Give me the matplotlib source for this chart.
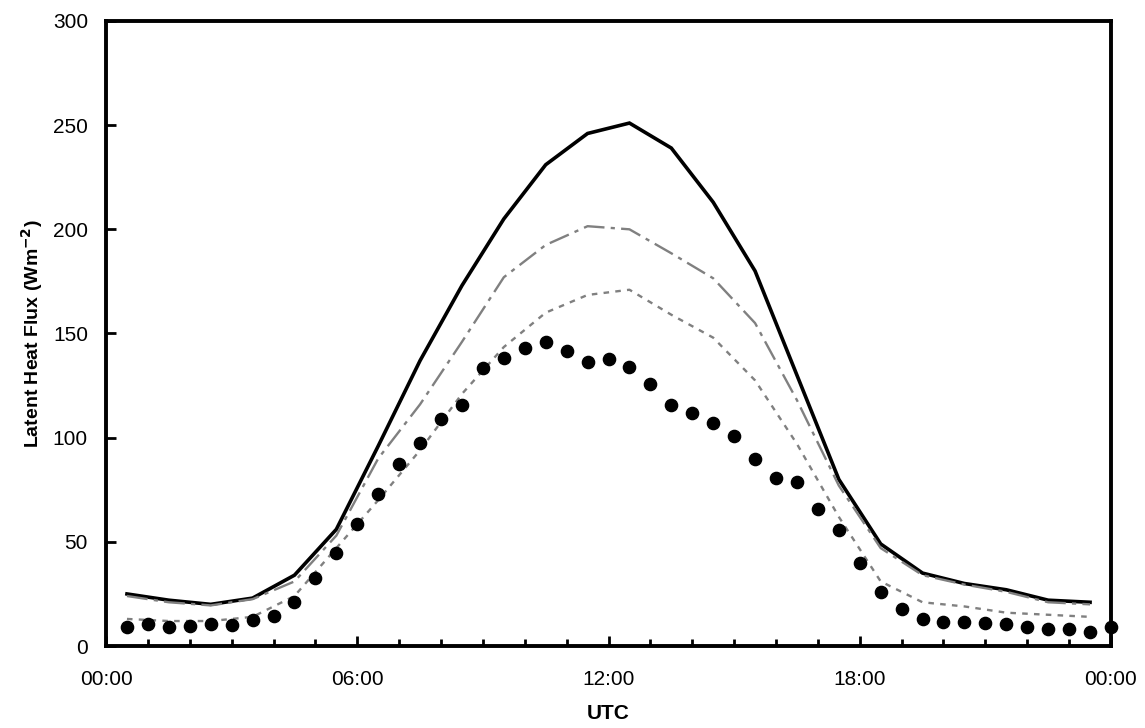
import numpy as np
import matplotlib
matplotlib.use('Agg')
import matplotlib.pyplot as plt
from matplotlib.ticker import MultipleLocator, FixedLocator, FixedFormatter

plt.rcParams['font.family'] = ['Liberation Sans', 'DejaVu Sans']
plt.rcParams['lines.scale_dashes'] = False

# hourly model output (half past each hour)
hours_line = np.arange(0.5, 24.0, 1.0)
solid_vals = [25, 22, 20, 23, 34, 56, 96, 137, 173, 205, 231, 246,
              251, 239, 213, 180, 130, 80, 49, 35, 30, 27, 22, 21]
dashdot_vals = [24, 21, 19.5, 22.5, 31, 53, 90, 116, 146, 177, 192.5, 201.5,
                200, 188.5, 176.5, 155, 118, 77, 47, 34, 29.5, 26, 21, 20]
dotted_vals = [13, 12, 12, 14, 24, 47, 70, 94, 121, 143.5, 160, 168.5,
               171, 159, 148, 127.5, 97, 62, 31, 21, 19, 16, 15, 14]

# half-hourly observations
hours_obs = np.arange(0.5, 24.01, 0.5)
obs_vals = [9, 10.5, 9, 9.6, 10.5, 10, 12.5, 14.5, 21, 32.6, 44.6, 58.6,
            73, 87.4, 97.5, 109, 115.7, 133.4, 138.3, 143, 145.9, 141.6, 136.3, 137.6,
            134, 125.8, 115.7, 112, 107, 100.8, 90, 80.7, 78.8, 66, 55.7, 39.8,
            26, 17.8, 13, 11.5, 11.5, 11, 10.5, 9, 8.2, 8.2, 6.7, 9]

xtick_pos = [0, 6, 12, 18, 24]
xtick_labels = ['00:00', '06:00', '12:00', '18:00', '00:00']

fig = plt.figure(figsize=(11.45, 7.28), dpi=100)
ax = fig.add_axes([0.0926, 0.1126, 0.8777, 0.8586])

ax.plot(hours_line, solid_vals, color='black', lw=2.6, solid_joinstyle='miter')
ax.plot(hours_line, dashdot_vals, color='#808080', lw=1.7,
        linestyle=(0, (15, 4.5, 3, 4.5)))
ax.plot(hours_line, dotted_vals, color='#808080', lw=1.7,
        linestyle=(0, (4, 4.5)))
ax.plot(hours_obs, obs_vals, 'o', color='black', ms=8.8, clip_on=False, zorder=5)

ax.set_xlim(0, 24)
ax.set_ylim(0, 300)
ax.xaxis.set_major_locator(FixedLocator(xtick_pos))
ax.xaxis.set_major_formatter(FixedFormatter(xtick_labels))
ax.xaxis.set_minor_locator(MultipleLocator(1))
ax.yaxis.set_major_locator(MultipleLocator(50))

for s in ax.spines.values():
    s.set_linewidth(2.8)

ax.tick_params(axis='x', which='major', direction='in', length=7, width=2, labelsize=15, pad=17)
ax.tick_params(axis='x', which='minor', direction='in', length=5, width=2)
ax.tick_params(axis='y', which='major', direction='in', length=7, width=2, labelsize=15, pad=13)

ax.set_xlabel('UTC', fontsize=15, fontweight='bold', labelpad=11)
ax.set_ylabel('Latent Heat Flux (Wm$^{\\mathbf{-2}}$)', fontsize=14, fontweight='bold', labelpad=6)

fig.savefig('out.png', dpi=100)
